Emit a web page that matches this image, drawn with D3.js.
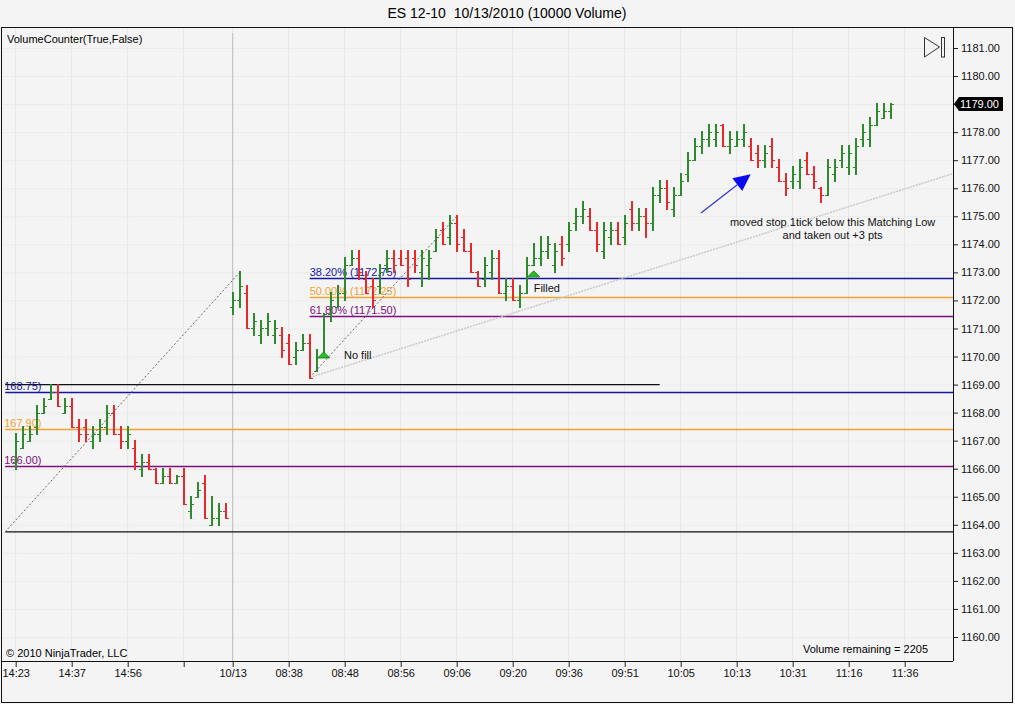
<!DOCTYPE html>
<html>
<head>
<meta charset="utf-8">
<script src="https://cdn.jsdelivr.net/npm/d3@7"></script>
<style>
  html, body { margin: 0; padding: 0; background: #f4f4f4; }
  svg { display: block; font-family: "Liberation Sans", Arial, sans-serif; }
</style>
</head>
<body>
<div id="chart"></div>
<script>
// ES 12-10, 10000 volume bars
const opens = [
  1166.25, 1166.75, 1167.0, 1167.5, 1168.0, 1168.5, 1168.75, 1168.0, 1168.25, 1167.5,
  1167.5, 1167.0, 1167.25, 1167.5, 1168.0, 1167.25, 1167.0, 1166.75, 1166.0, 1166.25,
  1166.0, 1165.5, 1165.75, 1165.5, 1165.75, 1164.5, 1165.0, 1165.5, 1164.0, 1164.25,
  1164.5, 1171.75, 1172.0, 1172.25, 1171.0, 1170.75, 1171.0, 1170.75, 1170.75, 1170.5,
  1170.0, 1170.25, 1170.5, 1169.5, 1170.0, 1171.5, 1171.75, 1172.25, 1173.25, 1173.5,
  1172.75, 1172.5, 1172.5, 1173.25, 1173.5, 1173.5, 1173.5, 1173.5, 1173.0, 1173.25,
  1173.75, 1174.5, 1174.25, 1174.75, 1174.25, 1173.75, 1173.0, 1172.75, 1173.0, 1173.5,
  1172.25, 1172.5, 1172.0, 1172.25, 1173.25, 1173.5, 1173.75, 1173.25, 1174.0, 1174.0,
  1174.75, 1175.0, 1175.0, 1174.5, 1173.75, 1174.25, 1174.5, 1174.25, 1175.25, 1174.75,
  1175.0, 1174.75, 1175.75, 1176.0, 1175.25, 1175.75, 1176.5, 1177.0, 1177.5, 1177.75,
  1177.75, 1178.25, 1177.5, 1177.5, 1177.75, 1177.5, 1177.25, 1177.0, 1177.5, 1176.75,
  1176.25, 1176.25, 1176.25, 1177.0, 1176.5, 1176.0, 1175.75, 1176.5, 1177.0, 1176.75,
  1176.75, 1177.75, 1177.75, 1178.25, 1178.5, 1178.75
];
const highs = [
  1167.25, 1167.5, 1167.5, 1168.25, 1168.5, 1169.0, 1169.0, 1168.5, 1168.5, 1167.75,
  1167.75, 1167.5, 1167.75, 1168.25, 1168.25, 1167.5, 1167.5, 1167.0, 1166.5, 1166.5,
  1166.0, 1166.0, 1166.0, 1165.75, 1166.0, 1165.0, 1165.5, 1165.75, 1165.0, 1164.75,
  1164.75, 1172.25, 1173.0, 1172.5, 1171.5, 1171.25, 1171.5, 1171.25, 1171.0, 1170.75,
  1170.5, 1170.75, 1170.75, 1170.25, 1171.5, 1172.25, 1172.5, 1173.5, 1173.75, 1173.75,
  1173.0, 1172.75, 1173.25, 1173.75, 1173.75, 1173.75, 1173.75, 1173.75, 1173.75, 1173.75,
  1174.5, 1174.75, 1175.0, 1175.0, 1174.5, 1174.0, 1173.0, 1173.5, 1173.75, 1173.75,
  1172.75, 1172.75, 1172.5, 1173.5, 1174.0, 1174.25, 1174.25, 1174.0, 1174.25, 1174.75,
  1175.25, 1175.5, 1175.25, 1174.75, 1174.75, 1174.75, 1174.75, 1175.0, 1175.5, 1175.25,
  1175.25, 1176.0, 1176.25, 1176.25, 1176.0, 1176.5, 1177.25, 1177.75, 1178.0, 1178.25,
  1178.25, 1178.25, 1178.0, 1178.0, 1178.25, 1177.75, 1177.5, 1177.5, 1177.75, 1177.0,
  1176.5, 1176.75, 1177.0, 1177.25, 1176.75, 1176.0, 1177.0, 1177.0, 1177.5, 1177.5,
  1177.75, 1178.25, 1178.5, 1179.0, 1179.0, 1179.0
];
const lows = [
  1166.0, 1166.75, 1167.0, 1167.25, 1168.0, 1168.5, 1168.25, 1168.0, 1167.5, 1167.0,
  1167.0, 1166.75, 1167.0, 1167.25, 1167.25, 1166.75, 1166.75, 1166.0, 1165.75, 1166.0,
  1165.5, 1165.5, 1165.5, 1165.5, 1164.75, 1164.25, 1165.0, 1164.25, 1164.0, 1164.0,
  1164.25, 1171.5, 1171.75, 1171.0, 1170.75, 1170.5, 1170.75, 1170.5, 1170.0, 1169.75,
  1169.75, 1170.25, 1169.25, 1169.5, 1170.0, 1171.25, 1171.75, 1172.0, 1173.25, 1172.75,
  1172.25, 1171.75, 1172.25, 1173.0, 1173.0, 1173.25, 1172.5, 1173.0, 1172.5, 1172.75,
  1173.75, 1174.0, 1174.0, 1173.75, 1173.75, 1173.0, 1172.5, 1172.5, 1172.75, 1172.25,
  1172.0, 1172.0, 1171.75, 1172.25, 1173.25, 1173.25, 1173.5, 1173.0, 1173.25, 1173.75,
  1174.5, 1174.75, 1174.5, 1173.75, 1173.5, 1174.0, 1174.0, 1174.0, 1174.5, 1174.5,
  1174.25, 1174.5, 1175.5, 1175.25, 1175.0, 1175.75, 1176.25, 1177.0, 1177.25, 1177.5,
  1177.5, 1177.5, 1177.25, 1177.5, 1177.5, 1177.0, 1176.75, 1176.75, 1176.75, 1176.25,
  1175.75, 1176.0, 1176.0, 1176.5, 1176.0, 1175.5, 1175.75, 1176.25, 1176.75, 1176.5,
  1176.5, 1177.5, 1177.5, 1178.25, 1178.5, 1178.5
];
const closes = [
  1167.0, 1167.25, 1167.25, 1168.0, 1168.25, 1168.75, 1168.25, 1168.25, 1167.5, 1167.25,
  1167.25, 1167.25, 1167.5, 1168.0, 1167.25, 1167.0, 1167.25, 1166.25, 1166.25, 1166.0,
  1165.5, 1165.75, 1165.5, 1165.75, 1164.75, 1164.75, 1165.25, 1164.25, 1164.25, 1164.5,
  1164.25, 1172.0, 1172.5, 1171.0, 1171.25, 1171.0, 1171.25, 1171.0, 1170.25, 1169.75,
  1170.25, 1170.5, 1169.25, 1170.0, 1171.5, 1172.0, 1172.25, 1173.25, 1173.5, 1173.0,
  1172.25, 1172.0, 1173.0, 1173.5, 1173.25, 1173.25, 1172.75, 1173.25, 1173.5, 1173.5,
  1174.25, 1174.0, 1174.75, 1174.0, 1173.75, 1173.0, 1172.5, 1173.25, 1173.5, 1172.25,
  1172.5, 1172.0, 1172.25, 1173.25, 1173.5, 1173.75, 1174.0, 1173.75, 1173.5, 1174.5,
  1175.0, 1175.25, 1174.5, 1174.0, 1174.5, 1174.5, 1174.0, 1174.75, 1174.75, 1175.0,
  1174.75, 1175.75, 1176.0, 1175.5, 1175.75, 1176.25, 1177.0, 1177.5, 1177.75, 1178.0,
  1178.0, 1177.5, 1177.75, 1177.75, 1178.0, 1177.0, 1177.0, 1177.25, 1177.0, 1176.25,
  1176.0, 1176.5, 1176.75, 1176.5, 1176.25, 1175.75, 1176.75, 1176.75, 1177.25, 1177.25,
  1177.5, 1178.0, 1178.25, 1178.75, 1178.75, 1179.0
];

// time axis: bar index of each label
const timeTickBars = [0, 8, 16, 24, 31, 39, 47, 55, 63, 71, 79, 87, 95, 103, 111, 119, 127];
const timeTickLabels = ["14:23", "14:37", "14:56", "", "10/13", "08:38", "08:48", "08:56",
  "09:06", "09:20", "09:36", "09:51", "10:05", "10:13", "10:31", "11:16", "11:36"];
const sessionBreakBar = 31;

const priceTicks = [1160, 1161, 1162, 1163, 1164, 1165, 1166, 1167, 1168, 1169, 1170,
  1171, 1172, 1173, 1174, 1175, 1176, 1177, 1178, 1179, 1180, 1181];

// fibonacci retracements
const leftFibPrices = [1168.73, 1167.42, 1166.09];
const leftFibLabels = ["168.75)", "167.90)", "166.00)"];
const midFibPrices = [1172.80, 1172.125, 1171.45];
const midFibLabels = ["38.20% (1172.75)", "50.00% (1172.25)", "61.80% (1171.50)"];
const fibColors = ["#16169c", "#f3a030", "#7e0e7e"];

// drawing objects, [bar, price]
const hLines = [
  { from: -1.5, to: 92, price: 1169.0 },
  { from: -1.5, to: 134, price: 1163.75 },
];
const dashedLines = [
  [[-1.5, 1163.75], [32, 1173.0]],
  [[42, 1169.25], [63, 1175.0]],
];
const trendLine = [[42, 1169.25], [134, 1176.53]];
const arrow = [[97.9, 1175.12], [105, 1176.5]];
const entryMarks = [
  { bar: 44, price: 1169.95, label: "No fill", lx: 46.9, lp: 1170.05 },
  { bar: 74, price: 1172.84, label: "Filled", lx: 74.0, lp: 1172.45 },
];
const noteLines = ["moved stop 1tick below this Matching Low", "and taken out +3 pts"];

const W = 1015, H = 704;
const plot = { left: 2, top: 28, right: 953, bottom: 661 };

const bars = opens.map((o, i) => ({ i, o, h: highs[i], l: lows[i], c: closes[i] }));

const x = d3.scaleLinear().domain([0, bars.length - 1]).range([15.7, 15.7 + 7 * (bars.length - 1)]);
const y = d3.scaleLinear().domain([1160, 1181]).range([637, 48]);

const svg = d3.select("#chart").append("svg").attr("width", W).attr("height", H);

svg.append("rect").attr("width", W).attr("height", H).attr("fill", "#f4f4f4");

// title
svg.append("text")
  .attr("x", 507).attr("y", 18)
  .attr("text-anchor", "middle")
  .attr("font-size", "14px")
  .style("white-space", "pre")
  .text("ES 12-10  10/13/2010 (10000 Volume)");

svg.append("defs").append("clipPath").attr("id", "plotclip")
  .append("rect")
  .attr("x", plot.left).attr("y", plot.top)
  .attr("width", plot.right - plot.left).attr("height", plot.bottom - plot.top);

const g = svg.append("g").attr("clip-path", "url(#plotclip)");

// faint grid
g.append("g").selectAll("line").data(priceTicks).join("line")
  .attr("x1", plot.left).attr("x2", plot.right)
  .attr("y1", (d) => y(d) + 0.5).attr("y2", (d) => y(d) + 0.5)
  .attr("stroke", "#ebebeb");
g.append("g").selectAll("line").data(timeTickBars).join("line")
  .attr("x1", (d) => x(d)).attr("x2", (d) => x(d))
  .attr("y1", plot.top).attr("y2", plot.bottom)
  .attr("stroke", "#e6e6e6");

// session break
g.append("line")
  .attr("x1", x(sessionBreakBar)).attr("x2", x(sessionBreakBar))
  .attr("y1", plot.top + 5).attr("y2", plot.bottom)
  .attr("stroke", "#bdbdbd");

// horizontal lines
g.append("g").selectAll("line").data(hLines).join("line")
  .attr("x1", (d) => x(d.from)).attr("x2", (d) => x(d.to))
  .attr("y1", (d) => y(d.price)).attr("y2", (d) => y(d.price))
  .attr("stroke", "#111").attr("stroke-width", 1.2);

// fib levels
const fibSets = [
  { prices: leftFibPrices, labels: leftFibLabels, from: -1.5, lx: x(-1.5) - 1 },
  { prices: midFibPrices, labels: midFibLabels, from: 42, lx: x(42) },
];
fibSets.forEach((s) => {
  g.append("g").selectAll("line").data(s.prices).join("line")
    .attr("x1", x(s.from)).attr("x2", plot.right)
    .attr("y1", (d) => Math.round(y(d)) + 0.5).attr("y2", (d) => Math.round(y(d)) + 0.5)
    .attr("stroke", (d, i) => fibColors[i]).attr("stroke-width", 1.3);
  g.append("g").selectAll("text").data(s.prices).join("text")
    .attr("x", s.lx).attr("y", (d) => y(d) - 2)
    .attr("font-size", "11px")
    .attr("fill", (d, i) => fibColors[i])
    .text((d, i) => s.labels[i]);
});

// trend line, extended to the right edge
const tSlope = (trendLine[1][1] - trendLine[0][1]) / (trendLine[1][0] - trendLine[0][0]);
g.append("line")
  .attr("x1", x(trendLine[0][0])).attr("y1", y(trendLine[0][1]))
  .attr("x2", x(trendLine[1][0])).attr("y2", y(trendLine[0][1] + tSlope * (trendLine[1][0] - trendLine[0][0])))
  .attr("stroke", "#c9c9c9").attr("stroke-width", 1.5)
  .attr("stroke-dasharray", "2,1");

// dashed fib anchors
g.append("g").selectAll("line").data(dashedLines).join("line")
  .attr("x1", (d) => x(d[0][0])).attr("y1", (d) => y(d[0][1]))
  .attr("x2", (d) => x(d[1][0])).attr("y2", (d) => y(d[1][1]))
  .attr("stroke", "#666").attr("stroke-width", 1)
  .attr("stroke-dasharray", "2,2");

// OHLC bars
const barColor = (d) => (d.c >= d.o ? "#2f8a2f" : "#e42a2a");
const barG = g.append("g").selectAll("g").data(bars).join("g")
  .attr("stroke", barColor)
  .attr("shape-rendering", "crispEdges");
barG.append("line")
  .attr("x1", (d) => Math.round(x(d.i))).attr("x2", (d) => Math.round(x(d.i)))
  .attr("y1", (d) => y(d.h) - 1).attr("y2", (d) => y(d.l) + 1)
  .attr("stroke-width", 2);
barG.append("line")
  .attr("x1", (d) => Math.round(x(d.i)) - 3).attr("x2", (d) => Math.round(x(d.i)))
  .attr("y1", (d) => Math.round(y(d.o))).attr("y2", (d) => Math.round(y(d.o)))
  .attr("stroke-width", 1);
barG.append("line")
  .attr("x1", (d) => Math.round(x(d.i))).attr("x2", (d) => Math.round(x(d.i)) + 3)
  .attr("y1", (d) => Math.round(y(d.c))).attr("y2", (d) => Math.round(y(d.c)))
  .attr("stroke-width", 1);

// entry markers
entryMarks.forEach((m) => {
  const cx = x(m.bar), by = y(m.price);
  g.append("path")
    .attr("d", `M${cx - 6},${by}L${cx},${by - 6}L${cx + 6},${by}Z`)
    .attr("fill", "#22c322").attr("stroke", "#0d6e0d").attr("stroke-width", 0.8);
  g.append("text")
    .attr("x", x(m.lx)).attr("y", y(m.lp))
    .attr("dy", "0.35em")
    .attr("font-size", "11px").attr("fill", "#111")
    .text(m.label);
});

// blue arrow
const ax0 = x(arrow[0][0]), ay0 = y(arrow[0][1]);
const ax1 = x(arrow[1][0]), ay1 = y(arrow[1][1]);
const ang = Math.atan2(ay1 - ay0, ax1 - ax0);
const headLen = 17, headW = 8;
const bx = ax1 - headLen * Math.cos(ang), byy = ay1 - headLen * Math.sin(ang);
g.append("line")
  .attr("x1", ax0).attr("y1", ay0).attr("x2", bx).attr("y2", byy)
  .attr("stroke", "#3535d8").attr("stroke-width", 1.2);
g.append("path")
  .attr("d", `M${ax1},${ay1}L${bx - headW * Math.sin(ang)},${byy + headW * Math.cos(ang)}L${bx + headW * Math.sin(ang)},${byy - headW * Math.cos(ang)}Z`)
  .attr("fill", "#0a0af0");

// annotation
g.append("g").selectAll("text").data(noteLines).join("text")
  .attr("x", x(116.7)).attr("y", (d, i) => y(1174.78) + i * 12.5)
  .attr("dy", "0.35em")
  .attr("text-anchor", "middle")
  .attr("font-size", "11px").attr("fill", "#111")
  .text((d) => d);

// labels inside plot
svg.append("text").attr("x", 7).attr("y", 43).attr("font-size", "11px").text("VolumeCounter(True,False)");
svg.append("text").attr("x", 6).attr("y", 657).attr("font-size", "11px").text("\u00a9 2010 NinjaTrader, LLC");
svg.append("text").attr("x", 928).attr("y", 653).attr("text-anchor", "end")
  .attr("font-size", "11px").text("Volume remaining = 2205");

// play icon
svg.append("path").attr("d", "M924.5,37.5L939.5,47L924.5,57Z")
  .attr("fill", "none").attr("stroke", "#333").attr("stroke-width", 1);
svg.append("rect").attr("x", 941.5).attr("y", 37.5).attr("width", 3).attr("height", 19.5)
  .attr("fill", "none").attr("stroke", "#333").attr("stroke-width", 1);

// axes
const yAxis = d3.axisRight(y).tickValues(priceTicks).tickSize(5).tickPadding(3)
  .tickFormat(d3.format(".2f"));
const yg = svg.append("g").attr("transform", `translate(${plot.right},0)`).call(yAxis);
yg.select(".domain").remove();
yg.selectAll("text").attr("font-size", "11px").attr("font-family", "Liberation Sans, Arial, sans-serif").attr("fill", "#111");
yg.selectAll("line").attr("stroke", "#222");

const xAxis = d3.axisBottom(x).tickValues(timeTickBars).tickSize(6).tickPadding(2)
  .tickFormat((d, i) => timeTickLabels[i]);
const xg = svg.append("g").attr("transform", `translate(0,${plot.bottom})`).call(xAxis);
xg.select(".domain").remove();
xg.selectAll("text").attr("font-size", "11px").attr("font-family", "Liberation Sans, Arial, sans-serif").attr("fill", "#111");
xg.selectAll("line").attr("stroke", "#222");

// last price marker
const lastY = y(closes[closes.length - 1]);
svg.append("path")
  .attr("d", `M${plot.right + 1},${lastY}L${plot.right + 6},${lastY - 7}L1003,${lastY - 7}L1003,${lastY + 7}L${plot.right + 6},${lastY + 7}Z`)
  .attr("fill", "#000");
svg.append("text")
  .attr("x", plot.right + 7).attr("y", lastY).attr("dy", "0.35em")
  .attr("font-size", "11px").attr("fill", "#fff")
  .text(d3.format(".2f")(closes[closes.length - 1]));

// frames
svg.append("rect").attr("x", 1.5).attr("y", 27.5).attr("width", 1011).attr("height", 675)
  .attr("fill", "none").attr("stroke", "#111");
svg.append("line").attr("x1", 1).attr("x2", plot.right).attr("y1", plot.bottom + 0.5).attr("y2", plot.bottom + 0.5)
  .attr("stroke", "#111");
svg.append("line").attr("x1", plot.right + 0.5).attr("x2", plot.right + 0.5).attr("y1", 27).attr("y2", plot.bottom)
  .attr("stroke", "#111");
</script>
</body>
</html>
